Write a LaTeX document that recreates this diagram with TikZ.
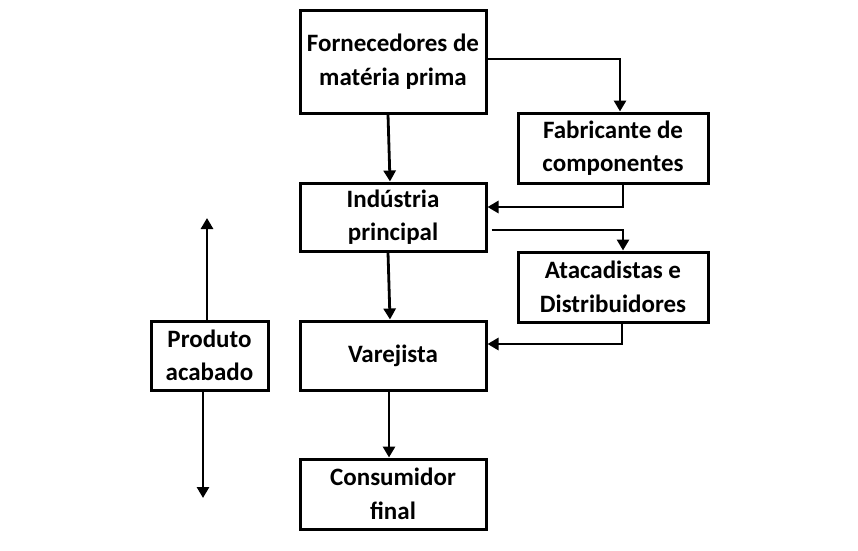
\documentclass[tikz,border=0pt]{standalone}
\usepackage{fontspec}
\setmainfont{Carlito}
\usetikzlibrary{arrows.meta}
\begin{document}
\begin{tikzpicture}[x=1pt,y=-1pt,
  box/.style={draw=black, line width=3pt, align=center, inner sep=0pt,
    font=\fontsize{25}{33.5}\selectfont\bfseries},
  arr/.style={line width=2.8pt, -{Triangle[length=11pt,width=12pt]}}]
\useasboundingbox (0,0) rectangle (858,550);
\node[box, minimum width=186pt, minimum height=103pt] (forn) at (393,61.5) {Fornecedores de\\matéria prima};
\node[box, minimum width=190pt, minimum height=70pt] (fab) at (613,148) {Fabricante de\\componentes};
\node[box, minimum width=186pt, minimum height=68pt] (ind) at (393,217) {Indústria\\principal};
\node[box, minimum width=190pt, minimum height=70pt] (ata) at (613,287) {Atacadistas e\\Distribuidores};
\node[box, minimum width=186pt, minimum height=69pt] (var) at (393,355.5) {Varejista};
\node[box, minimum width=186pt, minimum height=70pt] (cons) at (393,494) {Consumidor\\final};
\node[box, minimum width=117pt, minimum height=69pt] (prod) at (209.5,355.5) {Produto\\acabado};
\coordinate (uptip) at (207,218);
\coordinate (downtip) at (203,498);
\draw[arr] ([yshift=2.5pt]forn.east) -| ([xshift=7pt]fab.north);
\draw[arr] ([xshift=-5pt]forn.south) -- ([xshift=-3pt]ind.north);
\draw[arr] ([xshift=10pt]fab.south) |- ([yshift=10pt]ind.east);
\draw[arr] ([xshift=4pt,yshift=-13pt]ind.east) -| ([xshift=10pt]ata.north);
\draw[arr] ([xshift=-5pt]ind.south) -- ([xshift=-3pt]var.north);
\draw[arr] ([xshift=9pt]ata.south) |- ([yshift=11.5pt]var.east);
\draw[arr] ([xshift=-4pt]var.south) -- ([xshift=-4pt]cons.north);
\draw[arr] (prod.north -| uptip) -- (uptip);
\draw[arr] (prod.south -| downtip) -- (downtip);
\end{tikzpicture}
\end{document}
